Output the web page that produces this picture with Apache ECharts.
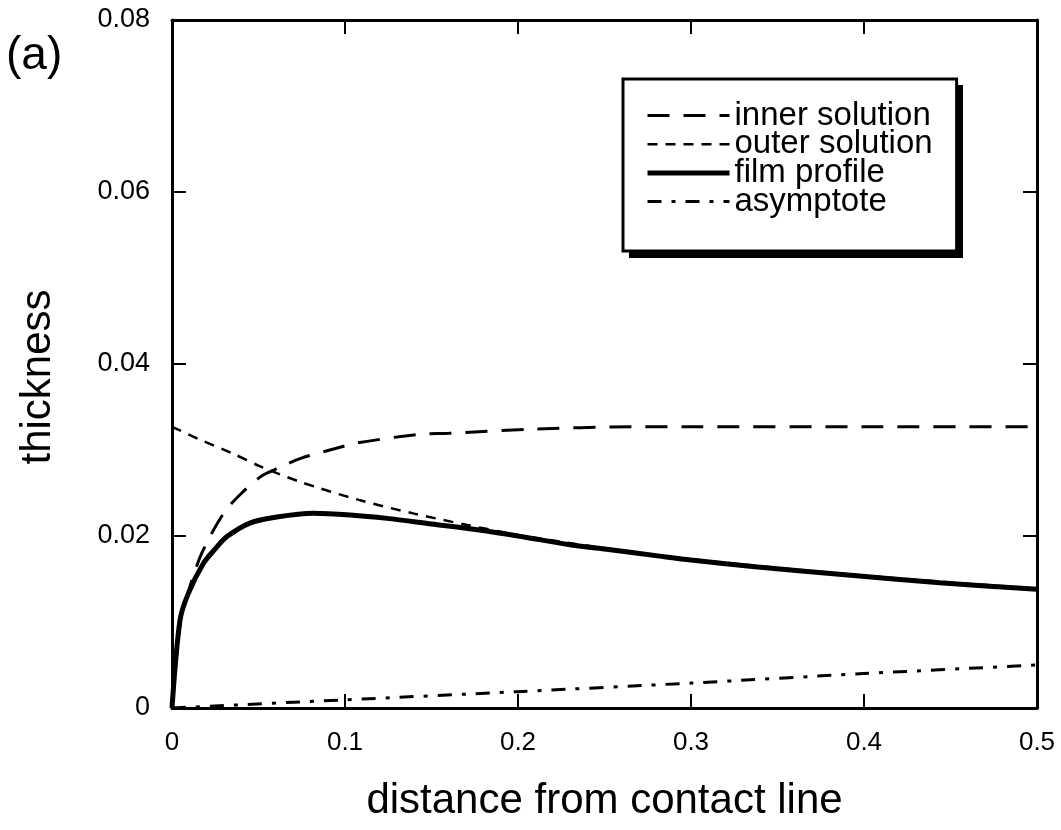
<!DOCTYPE html>
<html>
<head>
<meta charset="utf-8">
<script src="https://cdn.jsdelivr.net/npm/echarts@6/dist/echarts.min.js"></script>
<style>
html,body{margin:0;padding:0;background:#fff;}
#chart{width:1061px;height:830px;}
</style>
</head>
<body>
<div id="chart"></div>
<script>
// ---- data ----
var xTicks = [0, 0.1, 0.2, 0.3, 0.4, 0.5];
var yTicks = [0, 0.02, 0.04, 0.06, 0.08];

var innerX = [0, 0.005, 0.0094, 0.0172, 0.0297, 0.0403, 0.052, 0.0625, 0.074, 0.095, 0.1065, 0.1416, 0.16, 0.206, 0.266, 0.3, 0.4, 0.5];
var innerY = [0, 0.0102, 0.0135, 0.0180, 0.0226, 0.0250, 0.0270, 0.0280, 0.0290, 0.0302, 0.0308, 0.0318, 0.03194, 0.0324, 0.0327, 0.0327, 0.0327, 0.0327];

var outerX = [0, 0.0162, 0.035, 0.051, 0.074, 0.108, 0.14, 0.17, 0.19, 0.2, 0.25, 0.3, 0.35, 0.4, 0.45, 0.5];
var outerY = [0.0327, 0.0312, 0.0296, 0.0281, 0.0263, 0.0242, 0.0226, 0.0213, 0.0205, 0.0201, 0.0186, 0.0173, 0.0163, 0.0154, 0.0146, 0.0139];

var filmX = [0, 0.0046, 0.0094, 0.0181, 0.025, 0.0316, 0.045, 0.0606, 0.0816, 0.103, 0.1242, 0.15, 0.1776, 0.2, 0.2308, 0.25, 0.284, 0.3, 0.337, 0.3906, 0.4438, 0.5];
var filmY = [0, 0.0102, 0.0133, 0.0168, 0.0185, 0.0199, 0.0215, 0.0222, 0.02264, 0.02244, 0.02205, 0.0214, 0.0207, 0.0200, 0.01895, 0.0185, 0.0176, 0.0172, 0.01643, 0.01547, 0.01457, 0.0138];

var asymX = [0, 0.1, 0.2, 0.3, 0.4, 0.5];
var asymY = [0, 0.00095, 0.0019, 0.0029, 0.0040, 0.0050];

var seriesNames = ['inner solution', 'outer solution', 'film profile', 'asymptote'];

function pairs(xs, ys) { return xs.map(function (x, i) { return [x, ys[i]]; }); }

var FONT = 'Liberation Sans, Arial, Helvetica, sans-serif';
var chart = echarts.init(document.getElementById('chart'), null, {renderer: 'canvas'});

function axisCommon(extra) {
  var base = {
    type: 'value',
    axisLine: {show: true, onZero: false, lineStyle: {color: '#000', width: 3}},
    axisTick: {show: true, inside: true, length: 14, lineStyle: {color: '#000', width: 2}},
    splitLine: {show: false},
    axisLabel: {show: false}
  };
  for (var k in extra) base[k] = extra[k];
  return base;
}

var option = {
  animation: false,
  backgroundColor: '#fff',
  textStyle: {fontFamily: FONT, color: '#000'},
  title: {
    text: '(a)', left: 6, top: 33, padding: 0,
    textStyle: {fontSize: 46, fontWeight: 'normal', color: '#000', fontFamily: FONT}
  },
  graphic: [{
    type: 'rect', z: 3, silent: true,
    shape: {x: 629, y: 85, width: 334, height: 173},
    style: {fill: '#000'}
  }],
  grid: {left: 172, right: 24, top: 20, bottom: 122, containLabel: false},
  legend: {
    orient: 'vertical',
    left: 623, top: 79,
    padding: [20, 24, 33, 22],
    backgroundColor: '#fff',
    borderColor: '#000', borderWidth: 3,
    itemWidth: 82, itemHeight: 12, itemGap: -4.3,
    lineStyle: {width: 'inherit'},
    itemStyle: {color: 'transparent', borderColor: 'transparent', borderWidth: 0},
    textStyle: {fontSize: 33, color: '#000', fontFamily: FONT},
    data: seriesNames
  },
  xAxis: [
    axisCommon({
      position: 'bottom', min: xTicks[0], max: xTicks[xTicks.length - 1], interval: xTicks[1] - xTicks[0],
      axisLabel: {show: true, fontSize: 26, color: '#000', margin: 22, fontFamily: FONT},
      name: 'distance from contact line', nameLocation: 'middle', nameGap: 72,
      nameTextStyle: {fontSize: 42, color: '#000', fontFamily: FONT}
    }),
    axisCommon({position: 'top', min: xTicks[0], max: xTicks[xTicks.length - 1], interval: xTicks[1] - xTicks[0]})
  ],
  yAxis: [
    axisCommon({
      position: 'left', min: yTicks[0], max: yTicks[yTicks.length - 1], interval: yTicks[1] - yTicks[0],
      axisLabel: {show: true, fontSize: 27, color: '#000', margin: 22, fontFamily: FONT},
      name: 'thickness', nameLocation: 'middle', nameGap: 113, nameRotate: 90,
      nameTextStyle: {fontSize: 42, color: '#000', fontFamily: FONT, padding: [0, 26, 0, 0]}
    }),
    axisCommon({position: 'right', min: yTicks[0], max: yTicks[yTicks.length - 1], interval: yTicks[1] - yTicks[0]})
  ],
  series: [
    {
      name: seriesNames[0], type: 'line', data: pairs(innerX, innerY), symbol: 'none', smooth: 0.3,
      lineStyle: {color: '#000', width: 3, type: [22, 14]}, itemStyle: {color: '#000'}, z: 2
    },
    {
      name: seriesNames[1], type: 'line', data: pairs(outerX, outerY), symbol: 'none', smooth: 0.3,
      lineStyle: {color: '#000', width: 2.5, type: [10, 8]}, itemStyle: {color: '#000'}, z: 2
    },
    {
      name: seriesNames[2], type: 'line', data: pairs(filmX, filmY), symbol: 'none', smooth: 0.3,
      lineStyle: {color: '#000', width: 5, type: 'solid'}, itemStyle: {color: '#000'}, z: 3
    },
    {
      name: seriesNames[3], type: 'line', data: pairs(asymX, asymY), symbol: 'none', smooth: 0.3,
      lineStyle: {color: '#000', width: 3, type: [14, 10, 4, 10]}, itemStyle: {color: '#000'}, z: 2
    }
  ]
};
chart.setOption(option);
</script>
</body>
</html>
